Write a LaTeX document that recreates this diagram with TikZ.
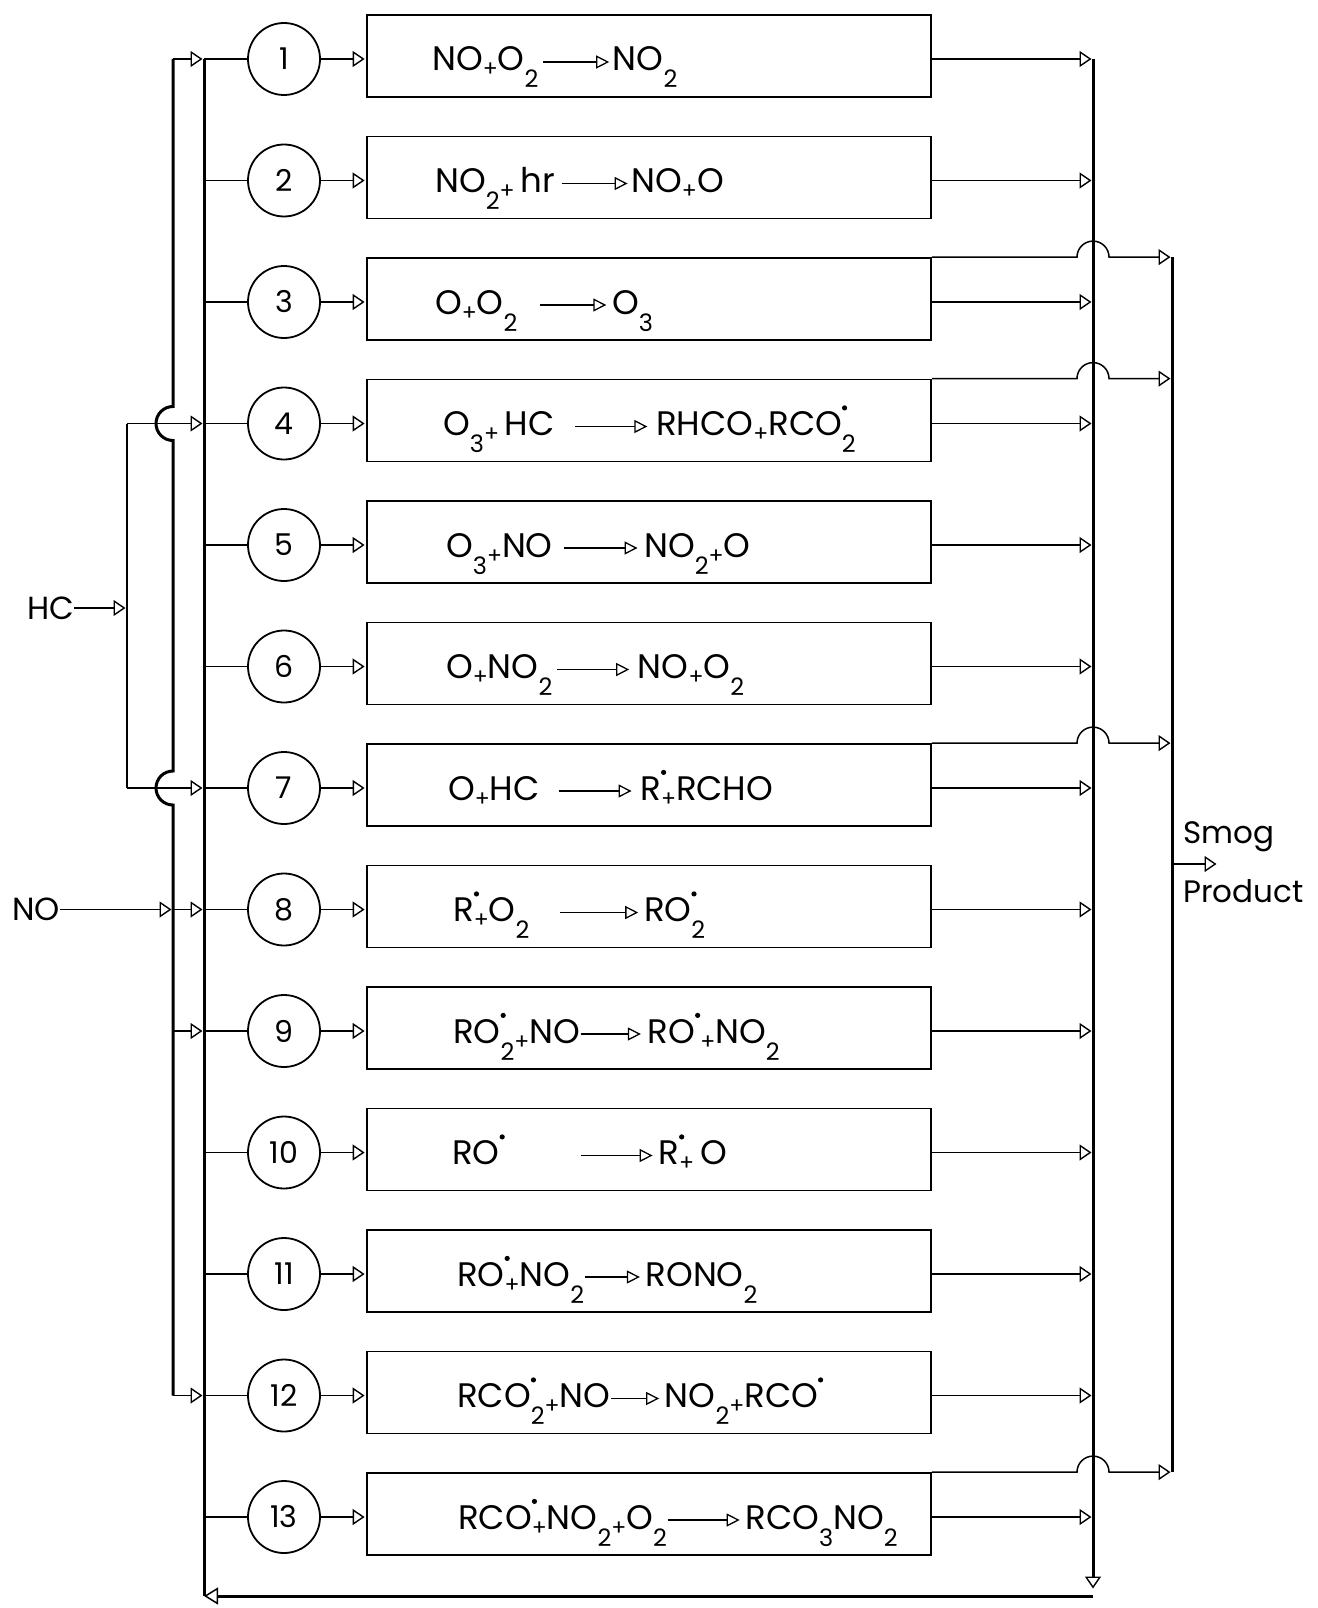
\documentclass[tikz,border=0pt]{standalone}
\usepackage{fontspec}
\setmainfont{Poppins}
\usetikzlibrary{arrows.meta}
\newcommand\sbs[1]{\raisebox{-17pt}{\fontsize{24}{24}\selectfont #1}}
\newcommand\pls{\raisebox{-6pt}{\fontsize{22}{22}\selectfont +}}
\newcommand\rad{\raisebox{25pt}{\tikz\fill (0pt,0pt) circle (2.6pt);}}
\newcommand\sbrad[1]{\rlap{\rad}\sbs{#1}}
\newcommand\yld[1]{\tikz[baseline=-9pt]\draw[line width=1.6pt,-{Triangle[open,length=13pt,width=13pt,line width=1.3pt]}] (0pt,0pt)--(#1,0pt);}
\begin{document}
\begin{tikzpicture}[x=1pt,y=-1pt,
  circ/.style={circle, draw, line width=1.8pt, minimum size=72pt, inner sep=0pt, font=\fontsize{30}{30}\selectfont},
  rbox/.style={draw, line width=1.8pt, minimum width=564pt, minimum height=82pt, inner sep=0pt},
  rx/.style={anchor=base west, inner sep=0pt, font=\fontsize{34}{34}\selectfont},
  lbl/.style={anchor=west, inner sep=0pt, font=\fontsize{32}{32}\selectfont},
  ln/.style={line width=1.5pt},
  bus/.style={line width=3pt},
  tip/.style={-{Triangle[open,length=12pt,width=16pt,line width=1.4pt]}, shorten >=1.5pt},
]
\useasboundingbox (0,0) rectangle (1317,1608);
% rows
\foreach \i in {1,...,13} {
  \pgfmathsetmacro\yy{59+121.5*(\i-1)}
  \coordinate (L\i) at (204,\yy);
  \coordinate (O\i) at (173,\yy);
  \coordinate (R\i) at (1093,\yy);
  \node[circ] (c\i) at (284,\yy) {\i};
  \node[rbox] (b\i) at (649,\yy-3) {};
  \draw[ln,tip] (c\i) -- (c\i -| b\i.west);
  \draw[ln,tip] (b\i.east |- R\i) -- (R\i);
}
% reaction texts
\node[rx] (t1) at (432,71) {NO\pls O\sbs{2}\hspace{4pt}\yld{66pt}\hspace{3pt}NO\sbs{2}};
\node[rx] (t2) at (435,192.5) {NO\sbs{2}\pls\,hr\hspace{6pt}\yld{66pt}\hspace{3pt}NO\pls O};
\node[rx] (t3) at (435,314) {O\pls O\sbs{2}\hspace{22pt}\yld{66pt}\hspace{5pt}O\sbs{3}};
\node[rx] (t4) at (443,435.5) {O\sbs{3}\pls\,HC\hspace{20pt}\yld{72pt}\hspace{8pt}RHCO\pls RCO\sbrad{2}};
\node[rx] (t5) at (446,557) {O\sbs{3}\pls NO\hspace{10pt}\yld{74pt}\hspace{6pt}NO\sbs{2}\pls O};
\node[rx] (t6) at (446,678.5) {O\pls NO\sbs{2}\hspace{4pt}\yld{72pt}\hspace{8pt}NO\pls O\sbs{2}};
\node[rx] (t7) at (448,800) {O\pls HC\hspace{18pt}\yld{73pt}\hspace{8pt}R\rlap{\rad}\pls RCHO};
\node[rx] (t8) at (453,921.5) {R\rlap{\rad}\pls O\sbs{2}\hspace{30pt}\yld{78pt}\hspace{5pt}RO\sbrad{2}};
\node[rx] (t9) at (453,1043) {RO\sbrad{2}\pls NO\yld{60pt}\hspace{6pt}RO\rad\pls NO\sbs{2}};
\node[rx] (t10) at (452,1164.5) {RO\rad\hspace{75pt}\yld{72pt}\hspace{5pt}R\rlap{\rad}\pls\hspace{6pt}O};
\node[rx] (t11) at (457,1286) {RO\rlap{\rad}\pls NO\sbs{2}\yld{55pt}\hspace{5pt}RONO\sbs{2}};
\node[rx] (t12) at (457,1407.5) {RCO\sbrad{2}\pls NO\yld{48pt}\hspace{5pt}NO\sbs{2}\pls RCO\rad};
\node[rx] (t13) at (458,1529) {RCO\rlap{\rad}\pls NO\sbs{2}\pls O\sbs{2}\yld{72pt}\hspace{5pt}RCO\sbs{3}NO\sbs{2}};
% left side: inner bus and feeds
\foreach \i in {1,...,13} { \draw[ln] (L\i) -- (c\i); }
\coordinate (LB) at (204,1596);
\coordinate (RB) at (1093,1596);
\coordinate (RE) at (1093,1590);
\draw[bus] (LB) -- (L1);
% outer bus with hops
\draw[bus] (O1) -- (173,406.5) arc[start angle=90,end angle=270,radius=17pt]
  -- (173,771) arc[start angle=90,end angle=270,radius=17pt] -- (O12);
\foreach \i in {1,8,9,12} { \draw[ln,tip] (O\i) -- (L\i); }
% HC input
\node[lbl] (hc) at (27,608) {HC};
\coordinate (H4) at (127,423.5);
\coordinate (H7) at (127,788);
\coordinate (HJ) at (127,608);
\draw[line width=2pt] (H4) -- (H7);
\draw[ln,tip] (hc) -- (HJ);
\draw[ln,tip] (H4) -- (L4);
\draw[ln,tip] (H7) -- (L7);
% NO input
\node[lbl] (no) at (12,909.5) {NO};
\draw[ln,tip] (no) -- (O8);
% right main bus and return line
\draw[bus,tip] (R1) -- (RE);
\draw[bus,-{Triangle[open,length=14pt,width=17pt,line width=1.5pt]}] (RB) -- (LB);
% smog product bus
\coordinate (SX) at (1172,0);
\foreach \i in {3,4,7,13} { \coordinate (S\i) at (b\i.north east -| SX); }
\draw[bus] (S3) -- (S13);
\foreach \i in {3,4,7,13} {
  \draw[ln,tip] (b\i.north east) -- ([xshift=-16pt]R\i |- b\i.north east) arc[start angle=180,end angle=0,radius=16pt] -- (S\i);
}
\node[lbl,font=\fontsize{31}{31}\selectfont] (smog) at (1183,837) {Smog};
\node[lbl,font=\fontsize{31}{31}\selectfont] (prod) at (1183,891) {Product};
\coordinate (SM) at (1172,864);
\coordinate (SE) at (1218,864);
\draw[ln,tip] (SM) -- (SE);
\end{tikzpicture}
\end{document}
